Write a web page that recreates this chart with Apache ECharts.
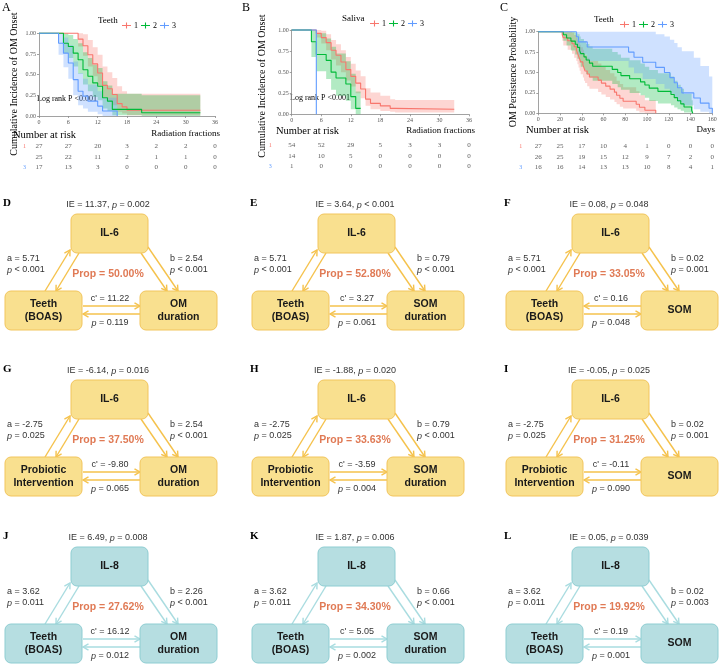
<!DOCTYPE html>
<html>
<head>
<meta charset="utf-8">
<script src="https://cdn.jsdelivr.net/npm/echarts@6.0.0/dist/echarts.min.js"></script>
<style>
html,body{margin:0;padding:0;background:#ffffff;}
#chart{width:721px;height:665px;}
</style>
</head>
<body>
<div id="chart"></div>
<script>
// ================= DATA =================
// Panel A : Teeth groups, cumulative incidence of OM onset vs radiation fractions
const aTime1 = [0, 8, 9, 10, 11, 12, 13, 14, 15, 16, 17, 18, 33];
const aSurv1 = [1, 0.93, 0.85, 0.74, 0.63, 0.52, 0.37, 0.33, 0.26, 0.15, 0.11, 0.07, 0.07];
const aLow1  = [1, 0.84, 0.73, 0.60, 0.48, 0.37, 0.23, 0.19, 0.13, 0.05, 0.03, 0.01, 0.01];
const aUpp1  = [1, 1.00, 0.99, 0.92, 0.83, 0.74, 0.60, 0.53, 0.46, 0.36, 0.30, 0.27, 0.27];

const aTime2 = [0, 5, 6, 7, 8, 9, 10, 11, 12, 13, 14, 15, 21, 33];
const aSurv2 = [1, 0.88, 0.84, 0.76, 0.68, 0.56, 0.48, 0.40, 0.36, 0.22, 0.18, 0.08, 0.04, 0.04];
const aLow2  = [1, 0.76, 0.70, 0.60, 0.51, 0.38, 0.30, 0.23, 0.19, 0.09, 0.06, 0.01, 0.00, 0.00];
const aUpp2  = [1, 1.00, 0.98, 0.93, 0.88, 0.77, 0.70, 0.62, 0.58, 0.42, 0.37, 0.27, 0.25, 0.25];

const aTime3 = [0, 4, 5, 6, 7, 8, 9, 10, 12, 13, 16];
const aSurv3 = [1, 0.88, 0.76, 0.64, 0.44, 0.30, 0.24, 0.18, 0.12, 0.06, 0.00];
const aLow3  = [1, 0.74, 0.59, 0.45, 0.25, 0.13, 0.09, 0.05, 0.02, 0.00, 0.00];
const aUpp3  = [1, 1.00, 0.95, 0.86, 0.66, 0.52, 0.45, 0.38, 0.30, 0.22, 0.00];

// Panel B : Saliva groups
const bTime1 = [0, 5, 6, 7, 8, 9, 10, 11, 12, 13, 14, 15, 16, 18, 20, 21, 33];
const bSurv1 = [1, 0.96, 0.91, 0.85, 0.76, 0.70, 0.62, 0.53, 0.45, 0.37, 0.30, 0.18, 0.13, 0.10, 0.07, 0.06, 0.06];
const bLow1  = [1, 0.91, 0.84, 0.76, 0.65, 0.58, 0.50, 0.40, 0.33, 0.25, 0.19, 0.10, 0.06, 0.04, 0.03, 0.02, 0.02];
const bUpp1  = [1, 1.00, 0.99, 0.95, 0.88, 0.83, 0.76, 0.68, 0.60, 0.52, 0.45, 0.31, 0.26, 0.22, 0.18, 0.17, 0.17];

const bTime2 = [0, 4, 5, 7, 8, 9, 11, 12, 13, 14];
const bSurv2 = [1, 0.86, 0.71, 0.64, 0.50, 0.43, 0.36, 0.21, 0.07, 0.07];
const bLow2  = [1, 0.68, 0.51, 0.42, 0.29, 0.22, 0.16, 0.06, 0.00, 0.00];
const bUpp2  = [1, 1.00, 0.96, 0.90, 0.80, 0.72, 0.63, 0.48, 0.27, 0.27];

const bTime3 = [0, 5];
const bSurv3 = [1, 0];

// Panel C : Teeth groups, OM persistence probability vs days
const cTime1 = [0, 22, 23, 27, 31, 33, 35, 36, 37, 38, 39, 41, 42, 43, 45, 47, 55, 58, 62, 66, 70, 72, 75, 78, 90, 93, 98, 108];
const cSurv1 = [1, 0.963, 0.926, 0.889, 0.852, 0.815, 0.778, 0.741, 0.704, 0.667, 0.630, 0.593, 0.556, 0.519, 0.481, 0.444, 0.407, 0.370, 0.333, 0.296, 0.259, 0.222, 0.185, 0.148, 0.111, 0.074, 0.037, 0];
const cLow1  = [1, 0.89, 0.83, 0.78, 0.73, 0.68, 0.64, 0.60, 0.56, 0.52, 0.48, 0.44, 0.40, 0.37, 0.33, 0.30, 0.26, 0.23, 0.20, 0.17, 0.14, 0.11, 0.08, 0.06, 0.03, 0.01, 0.00, 0];
const cUpp1  = [1, 1.00, 1.00, 1.00, 0.99, 0.96, 0.93, 0.90, 0.87, 0.84, 0.81, 0.78, 0.74, 0.71, 0.68, 0.64, 0.61, 0.57, 0.53, 0.49, 0.45, 0.40, 0.36, 0.32, 0.27, 0.22, 0.16, 0];

const cTime2 = [0, 23, 26, 30, 34, 36, 38, 39, 42, 44, 47, 50, 68, 73, 76, 84, 94, 98, 102, 110, 122, 125, 128, 131, 134, 141, 142];
const cSurv2 = [1, 0.962, 0.923, 0.885, 0.846, 0.808, 0.769, 0.731, 0.692, 0.654, 0.615, 0.577, 0.538, 0.500, 0.462, 0.423, 0.385, 0.346, 0.308, 0.269, 0.231, 0.192, 0.154, 0.115, 0.077, 0.038, 0];
const cLow2  = [1, 0.89, 0.83, 0.77, 0.72, 0.67, 0.62, 0.57, 0.53, 0.48, 0.44, 0.40, 0.36, 0.32, 0.29, 0.25, 0.22, 0.19, 0.15, 0.12, 0.10, 0.07, 0.05, 0.03, 0.01, 0.00, 0];
const cUpp2  = [1, 1.00, 1.00, 1.00, 0.99, 0.97, 0.94, 0.91, 0.88, 0.85, 0.82, 0.79, 0.75, 0.72, 0.68, 0.65, 0.61, 0.57, 0.53, 0.49, 0.45, 0.40, 0.35, 0.30, 0.24, 0.16, 0];

const cTime3 = [0, 35, 37, 45, 83, 88, 96, 108, 116, 121, 125, 128, 132, 143, 149, 157, 160];
const cSurv3 = [1, 0.9375, 0.875, 0.8125, 0.75, 0.6875, 0.625, 0.5625, 0.5, 0.4375, 0.375, 0.3125, 0.25, 0.1875, 0.125, 0.0625, 0];
const cLow3  = [1, 0.82, 0.72, 0.64, 0.56, 0.49, 0.42, 0.36, 0.30, 0.24, 0.19, 0.14, 0.10, 0.05, 0.02, 0.00, 0];
const cUpp3  = [1, 1.00, 1.00, 1.00, 1.00, 1.00, 1.00, 0.97, 0.94, 0.90, 0.86, 0.81, 0.76, 0.68, 0.58, 0.45, 0];

// Number-at-risk tables
const groupNames = ['1', '2', '3'];
const riskTimesAB = [0, 6, 12, 18, 24, 30, 36];
const riskTimesC = [0, 20, 40, 60, 80, 100, 120, 140, 160];
const riskA1 = [27, 27, 20, 3, 2, 2, 0];
const riskA2 = [25, 22, 11, 2, 1, 1, 0];
const riskA3 = [17, 13, 3, 0, 0, 0, 0];
const riskB1 = [54, 52, 29, 5, 3, 3, 0];
const riskB2 = [14, 10, 5, 0, 0, 0, 0];
const riskB3 = [1, 0, 0, 0, 0, 0, 0];
const riskC1 = [27, 25, 17, 10, 4, 1, 0, 0, 0];
const riskC2 = [26, 25, 19, 15, 12, 9, 7, 2, 0];
const riskC3 = [16, 16, 14, 13, 13, 10, 8, 4, 1];
const yTicks = [0, 0.25, 0.5, 0.75, 1];

// Mediation panels D-L
const medPanels   = ['D', 'E', 'F', 'G', 'H', 'I', 'J', 'K', 'L'];
const medMediator = ['IL-6', 'IL-6', 'IL-6', 'IL-6', 'IL-6', 'IL-6', 'IL-8', 'IL-8', 'IL-8'];
const medExposure = ['Teeth\n(BOAS)', 'Teeth\n(BOAS)', 'Teeth\n(BOAS)', 'Probiotic\nIntervention', 'Probiotic\nIntervention', 'Probiotic\nIntervention', 'Teeth\n(BOAS)', 'Teeth\n(BOAS)', 'Teeth\n(BOAS)'];
const medOutcome  = ['OM\nduration', 'SOM\nduration', 'SOM', 'OM\nduration', 'SOM\nduration', 'SOM', 'OM\nduration', 'SOM\nduration', 'SOM'];
const medIE   = [11.37, 3.64, 0.08, -6.14, -1.88, -0.05, 6.49, 1.87, 0.05];
const medIEp  = ['= 0.002', '< 0.001', '= 0.048', '= 0.016', '= 0.020', '= 0.025', '= 0.008', '= 0.006', '= 0.039'];
const medA    = [5.71, 5.71, 5.71, -2.75, -2.75, -2.75, 3.62, 3.62, 3.62];
const medAp   = ['< 0.001', '< 0.001', '< 0.001', '= 0.025', '= 0.025', '= 0.025', '= 0.011', '= 0.011', '= 0.011'];
const medB    = [2.54, 0.79, 0.02, 2.54, 0.79, 0.02, 2.26, 0.66, 0.02];
const medBp   = ['< 0.001', '< 0.001', '= 0.001', '< 0.001', '< 0.001', '= 0.001', '< 0.001', '< 0.001', '= 0.003'];
const medC    = [11.22, 3.27, 0.16, -9.80, -3.59, -0.11, 16.12, 5.05, 0.19];
const medCp   = ['= 0.119', '= 0.061', '= 0.048', '= 0.065', '= 0.004', '= 0.090', '= 0.012', '= 0.002', '= 0.001'];
const medProp = [50.00, 52.80, 33.05, 37.50, 33.63, 31.25, 27.62, 34.30, 19.92];
const medReverseC = [false, false, true, false, false, false, false, false, false];

// ================= STYLE / LAYOUT =================
const SERIF = "'Liberation Serif', 'Times New Roman', serif";
const SANS = "'Liberation Sans', Arial, sans-serif";
const LINE_COLORS = ['#F8766D', '#00BA38', '#619CFF'];
const BAND_COLORS = ['rgba(248,118,109,0.30)', 'rgba(0,186,56,0.30)', 'rgba(97,156,255,0.30)'];
const AXIS_GRAY = '#8a8a8a';

const kmPanels = [
  { letter: 'A', lx: 2, ly: 8, grid: { left: 39, top: 33.3, width: 176, height: 82.7 }, xr: [0, 36],
    ticks: riskTimesAB, yName: 'Cumulative Incidence of OM Onset', yTitle: { x: 14, y: 84 }, xName: 'Radiation fractions',
    legendTitle: 'Teeth', legendTitleX: 98, legendLeft: 117, legendY: 21,
    logRank: { x: 37, y: 99 }, nar: { x: 13, y: 135 }, xNameY: 134, xNameRight: 220,
    risk: { top: 141, height: 31.5, margin: 13 },
    curves: [
      { t: aTime1, s: aSurv1, lo: aLow1, hi: aUpp1 },
      { t: aTime2, s: aSurv2, lo: aLow2, hi: aUpp2 },
      { t: aTime3, s: aSurv3, lo: aLow3, hi: aUpp3 }],
    riskCounts: [riskA1, riskA2, riskA3] },
  { letter: 'B', lx: 242, ly: 8, grid: { left: 291.7, top: 30, width: 177.3, height: 84.3 }, xr: [0, 36],
    ticks: riskTimesAB, yName: 'Cumulative Incidence of OM Onset', yTitle: { x: 262, y: 86 }, xName: 'Radiation fractions',
    legendTitle: 'Saliva', legendTitleX: 342, legendLeft: 365, legendY: 19,
    logRank: { x: 290, y: 98 }, nar: { x: 276, y: 131 }, xNameY: 131, xNameRight: 475,
    risk: { top: 140, height: 31.5, margin: 20 },
    curves: [
      { t: bTime1, s: bSurv1, lo: bLow1, hi: bUpp1 },
      { t: bTime2, s: bSurv2, lo: bLow2, hi: bUpp2 },
      { t: bTime3, s: bSurv3 }],
    riskCounts: [riskB1, riskB2, riskB3] },
  { letter: 'C', lx: 500, ly: 8, grid: { left: 538.3, top: 31.7, width: 174, height: 81.6 }, xr: [0, 160],
    ticks: riskTimesC, yName: 'OM Persistence Probability', yTitle: { x: 513, y: 72 }, xName: 'Days',
    legendTitle: 'Teeth', legendTitleX: 594, legendLeft: 615, legendY: 20,
    logRank: null, nar: { x: 526, y: 130 }, xNameY: 130, xNameRight: 715,
    risk: { top: 141, height: 31.5, margin: 16 },
    curves: [
      { t: cTime1, s: cSurv1, lo: cLow1, hi: cUpp1 },
      { t: cTime2, s: cSurv2, lo: cLow2, hi: cUpp2 },
      { t: cTime3, s: cSurv3, lo: cLow3, hi: cUpp3 }],
    riskCounts: [riskC1, riskC2, riskC3] }
];

// ================= BUILD =================
const grids = [], xAxes = [], yAxes = [], series = [], legends = [], graphics = [];

function bandRenderer(c, color) {
  return function (params, api) {
    const t = c.t, lo = c.lo, hi = c.hi, n = t.length, pts = [];
    for (let i = 0; i < n; i++) {
      pts.push(api.coord([t[i], hi[i]]));
      if (i < n - 1) pts.push(api.coord([t[i + 1], hi[i]]));
    }
    for (let i = n - 1; i >= 0; i--) {
      if (i < n - 1) pts.push(api.coord([t[i + 1], lo[i]]));
      pts.push(api.coord([t[i], lo[i]]));
    }
    return { type: 'polygon', shape: { points: pts }, style: { fill: color } };
  };
}

kmPanels.forEach((p, pi) => {
  const gKm = 2 * pi, gRisk = 2 * pi + 1;
  grids.push(Object.assign({ containLabel: false }, p.grid));
  grids.push({ left: p.grid.left, width: p.grid.width, top: p.risk.top, height: p.risk.height });

  xAxes.push({
    gridIndex: gKm, type: 'value', min: p.xr[0], max: p.xr[1],
    axisLine: { show: true, lineStyle: { color: AXIS_GRAY, width: 0.8 } },
    axisTick: { show: true, customValues: p.ticks, length: 2, lineStyle: { color: AXIS_GRAY, width: 0.8 } },
    axisLabel: { customValues: p.ticks, fontSize: 6, fontFamily: SERIF, color: '#555', margin: 3 },
    splitLine: { show: false }
  });
  yAxes.push({
    gridIndex: gKm, type: 'value', min: 0, max: 1,
    axisLine: { show: true, lineStyle: { color: AXIS_GRAY, width: 0.8 } },
    axisTick: { show: true, customValues: yTicks, length: 2, lineStyle: { color: AXIS_GRAY, width: 0.8 } },
    axisLabel: { customValues: yTicks, fontSize: 6, fontFamily: SERIF, color: '#555', margin: 3,
      formatter: v => Number(v).toFixed(2) },
    splitLine: { show: false }
  });
  xAxes.push({ gridIndex: gRisk, type: 'value', min: p.xr[0], max: p.xr[1], show: false });
  const rich = {};
  groupNames.forEach((g, i) => { rich['g' + g] = { color: LINE_COLORS[i], fontSize: 6, fontFamily: SERIF }; });
  yAxes.push({
    gridIndex: gRisk, type: 'category', data: groupNames, inverse: true,
    axisLine: { show: false }, axisTick: { show: false }, splitLine: { show: false },
    axisLabel: { margin: p.risk.margin, formatter: v => '{g' + v + '|' + v + '}', rich: rich }
  });

  p.curves.forEach((c, gi) => {
    if (c.lo) {
      series.push({
        type: 'custom', name: groupNames[gi] + ' CI', xAxisIndex: gKm, yAxisIndex: gKm,
        silent: true, z: 1, clip: false, data: [[c.t[0], c.s[0]]], encode: { x: 0, y: 1 },
        renderItem: bandRenderer(c, BAND_COLORS[gi])
      });
    }
    series.push({
      type: 'line', name: groupNames[gi], xAxisIndex: gKm, yAxisIndex: gKm, step: 'end',
      data: c.t.map((t, i) => [t, c.s[i]]), showSymbol: false, symbol: 'none', z: 3, clip: false,
      color: LINE_COLORS[gi], lineStyle: { color: LINE_COLORS[gi], width: 1.1 }, silent: true
    });
  });

  p.riskCounts.forEach((counts, gi) => {
    series.push({
      type: 'scatter', name: 'risk ' + p.letter + groupNames[gi], xAxisIndex: gRisk, yAxisIndex: gRisk,
      symbolSize: 1, itemStyle: { color: 'rgba(0,0,0,0)' }, silent: true,
      data: p.ticks.map((t, i) => [t, groupNames[gi], counts[i]]),
      label: { show: true, position: 'inside', formatter: q => String(q.value[2]),
        fontSize: 7, fontFamily: SERIF, color: '#333' }
    });
  });

  legends.push({
    data: groupNames, left: p.legendLeft, top: p.legendY - 4.5, orient: 'horizontal',
    itemWidth: 9, itemHeight: 9, itemGap: 3, selectedMode: false,
    icon: 'path://M0,4.4H10V5.6H0Z M4.4,1.8H5.6V8.2H4.4Z',
    textStyle: { fontFamily: SERIF, fontSize: 8, color: '#000', padding: [0, 0, 0, -2] }
  });

  graphics.push({ type: 'text', x: p.lx, y: p.ly, style: { text: p.letter, font: "12px " + SERIF, fill: '#000', verticalAlign: 'middle' } });
  graphics.push({ type: 'text', x: p.yTitle.x, y: p.yTitle.y, rotation: Math.PI / 2,
    style: { text: p.yName, font: "10px " + SERIF, fill: '#000', align: 'center', verticalAlign: 'middle' } });
  graphics.push({ type: 'text', x: p.legendTitleX, y: p.legendY, style: { text: p.legendTitle, font: "9px " + SERIF, fill: '#000', verticalAlign: 'middle' } });
  if (p.logRank) {
    graphics.push({ type: 'text', x: p.logRank.x, y: p.logRank.y, style: { text: 'Log rank P <0.001', font: "8px " + SERIF, fill: '#000', verticalAlign: 'middle' } });
  }
  graphics.push({ type: 'text', x: p.nar.x, y: p.nar.y, style: { text: 'Number at risk', font: "10.5px " + SERIF, fill: '#000', verticalAlign: 'middle' } });
  graphics.push({ type: 'text', x: p.xNameRight, y: p.xNameY, style: { text: p.xName, font: "9px " + SERIF, fill: '#000', verticalAlign: 'middle', align: 'right' } });
});

// ---------- mediation diagrams ----------
const colX = [0, 247, 501];
const rowY = [0, 166, 333];

function arrow(x1, y1, x2, y2, color) {
  const dx = x2 - x1, dy = y2 - y1, len = Math.sqrt(dx * dx + dy * dy);
  const ux = dx / len, uy = dy / len, nx = -uy, ny = ux, L = 5.5, W = 3.2;
  return [
    { type: 'line', shape: { x1: x1, y1: y1, x2: x2, y2: y2 }, style: { stroke: color, lineWidth: 1.4 } },
    { type: 'polyline', shape: { points: [[x2 - ux * L + nx * W, y2 - uy * L + ny * W], [x2, y2], [x2 - ux * L - nx * W, y2 - uy * L - ny * W]] },
      style: { stroke: color, lineWidth: 1.4, fill: null } }
  ];
}
function pText(pStr) { return '{i|p}{n| ' + pStr + '}'; }
const medRich = { n: { fontFamily: SANS, fontSize: 9, fill: '#333' }, i: { fontFamily: SANS, fontSize: 9, fontStyle: 'italic', fill: '#333' } };

medPanels.forEach((L, k) => {
  const ox = colX[k % 3], oy = rowY[Math.floor(k / 3)];
  const teal = medMediator[k] === 'IL-8';
  const fill = teal ? '#B6DEE1' : '#F9E08F';
  const stroke = teal ? '#8ECDD2' : '#F2C55C';
  const ac = teal ? '#A9DCE0' : '#F5C24C';
  const els = [];
  els.push({ type: 'text', x: ox + 3, y: oy + 203, style: { text: L, font: "bold 11px " + SERIF, fill: '#000', verticalAlign: 'middle' } });
  els.push({ type: 'text', x: ox + 108, y: oy + 205, style: { text: '{n|IE = ' + medIE[k].toFixed(2) + ', }{i|p}{n| ' + medIEp[k] + '}', rich: medRich, align: 'center', verticalAlign: 'middle' } });
  els.push(...arrow(ox + 45, oy + 291, ox + 70, oy + 250, ac));
  els.push(...arrow(ox + 79, oy + 253, ox + 56, oy + 291, ac));
  els.push(...arrow(ox + 141, oy + 253, ox + 167, oy + 291, ac));
  els.push(...arrow(ox + 148, oy + 247, ox + 178, oy + 291, ac));
  if (!medReverseC[k]) {
    els.push(...arrow(ox + 83, oy + 306, ox + 140, oy + 306, ac));
    els.push(...arrow(ox + 140, oy + 314, ox + 83, oy + 314, ac));
  } else {
    els.push(...arrow(ox + 140, oy + 306, ox + 83, oy + 306, ac));
    els.push(...arrow(ox + 83, oy + 314, ox + 140, oy + 314, ac));
  }
  const boxes = [[71, 214, medMediator[k]], [5, 291, medExposure[k]], [140, 291, medOutcome[k]]];
  boxes.forEach(b => {
    els.push({ type: 'rect', shape: { x: ox + b[0], y: oy + b[1], width: 77, height: 39, r: 6 }, style: { fill: fill, stroke: stroke, lineWidth: 1 } });
    els.push({ type: 'text', x: ox + b[0] + 38.5, y: oy + b[1] + 19.5, style: { text: b[2], font: "bold 10.5px " + SANS, fill: '#1a1a1a', align: 'center', verticalAlign: 'middle', lineHeight: 12.5 } });
  });
  els.push({ type: 'text', x: ox + 7, y: oy + 259, style: { text: 'a = ' + medA[k].toFixed(2), font: "9px " + SANS, fill: '#333', verticalAlign: 'middle' } });
  els.push({ type: 'text', x: ox + 7, y: oy + 270, style: { text: pText(medAp[k]), rich: medRich, verticalAlign: 'middle' } });
  els.push({ type: 'text', x: ox + 170, y: oy + 259, style: { text: 'b = ' + medB[k].toFixed(2), font: "9px " + SANS, fill: '#333', verticalAlign: 'middle' } });
  els.push({ type: 'text', x: ox + 170, y: oy + 270, style: { text: pText(medBp[k]), rich: medRich, verticalAlign: 'middle' } });
  els.push({ type: 'text', x: ox + 108, y: oy + 274, style: { text: 'Prop = ' + medProp[k].toFixed(2) + '%', font: "bold 10.5px " + SANS, fill: '#E07A55', align: 'center', verticalAlign: 'middle' } });
  els.push({ type: 'text', x: ox + 110, y: oy + 299, style: { text: "c' = " + medC[k].toFixed(2), font: "9px " + SANS, fill: '#333', align: 'center', verticalAlign: 'middle' } });
  els.push({ type: 'text', x: ox + 110, y: oy + 323, style: { text: pText(medCp[k]), rich: medRich, align: 'center', verticalAlign: 'middle' } });
  graphics.push(...els);
});

const chart = echarts.init(document.getElementById('chart'), null, { renderer: 'canvas' });
chart.setOption({
  backgroundColor: '#ffffff',
  animation: false,
  textStyle: { fontFamily: SERIF },
  grid: grids,
  xAxis: xAxes,
  yAxis: yAxes,
  legend: legends,
  series: series,
  graphic: { elements: graphics }
});
</script>
</body>
</html>
